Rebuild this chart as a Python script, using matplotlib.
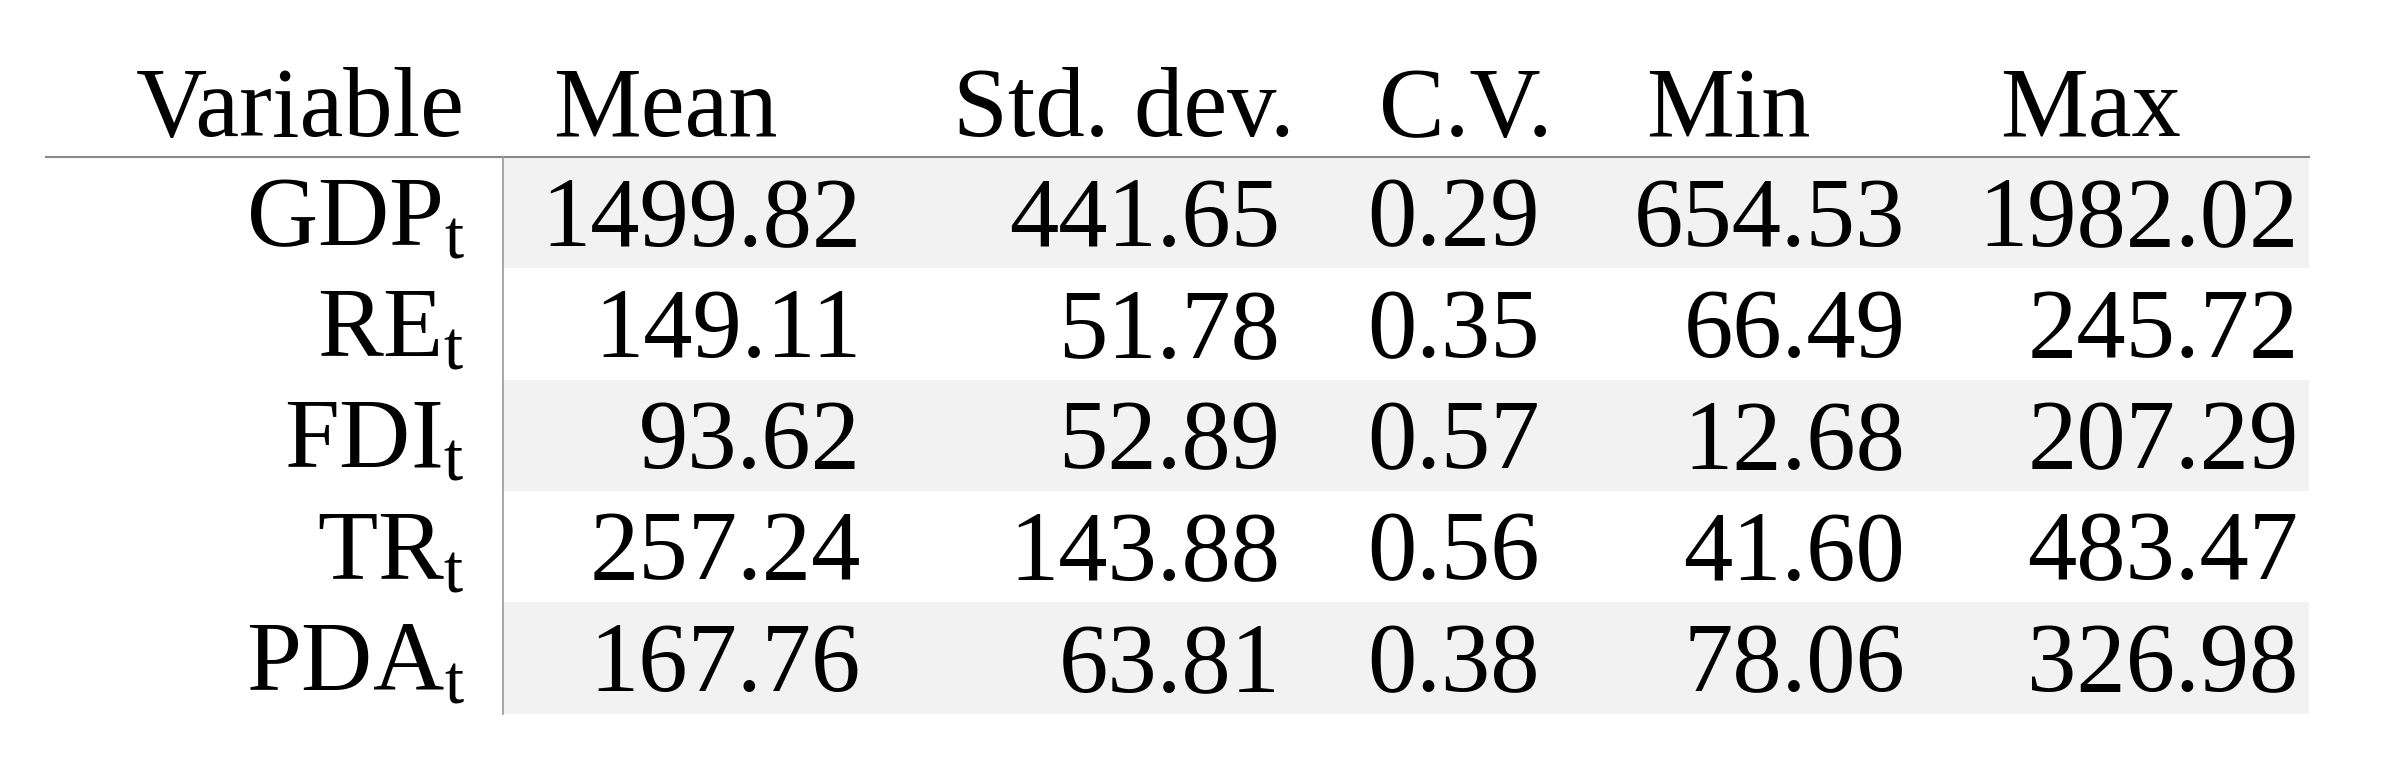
import matplotlib
matplotlib.use('Agg')
import matplotlib.pyplot as plt
from matplotlib.patches import Rectangle
from matplotlib.lines import Line2D

plt.rcParams['font.family'] = 'Liberation Serif'
plt.rcParams['mathtext.fontset'] = 'custom'
plt.rcParams['mathtext.rm'] = 'Liberation Serif'
plt.rcParams['mathtext.it'] = 'Liberation Serif'

# --- data ---
variables = ['GDP', 'RE', 'FDI', 'TR', 'PDA']
columns = ['Variable', 'Mean', 'Std. dev.', 'C.V.', 'Min', 'Max']
mean = [1499.82, 149.11, 93.62, 257.24, 167.76]
std_dev = [441.65, 51.78, 52.89, 143.88, 63.81]
cv = [0.29, 0.35, 0.57, 0.56, 0.38]
vmin = [654.53, 66.49, 12.68, 41.60, 78.06]
vmax = [1982.02, 245.72, 207.29, 483.47, 326.98]

W, H = 1568, 501  # layout measured in this pixel space


def fx(x):
    return x / W


def fy(y):
    return 1 - y / H


fig = plt.figure(figsize=(23.9, 7.64), dpi=100)
FS = 71

# header
header_x = [305, 363, 625, 905, 1080, 1312]
for i, (name, x) in enumerate(zip(columns, header_x)):
    fig.text(fx(x), fy(89), name, fontsize=FS,
             ha='right' if i == 0 else 'left', va='baseline')

row_top = 103
row_h = 73
line_x = 330
right_edge = 1515

# shaded bands
for i in range(len(variables)):
    if i % 2 == 0:
        fig.patches.append(Rectangle((fx(line_x), fy(row_top + (i + 1) * row_h)),
                                     fx(right_edge - line_x), row_h / H,
                                     transform=fig.transFigure,
                                     facecolor='#f2f2f2', edgecolor='none', zorder=0))

fig.lines.append(Line2D([fx(30), fx(right_edge)], [fy(row_top), fy(row_top)],
                        transform=fig.transFigure, color='#888888', lw=1.5))
fig.lines.append(Line2D([fx(line_x), fx(line_x)],
                        [fy(row_top), fy(row_top + len(variables) * row_h)],
                        transform=fig.transFigure, color='#999999', lw=1.2))

value_cols = [(mean, 565), (std_dev, 840), (cv, 1010), (vmin, 1250), (vmax, 1508)]
for i, var in enumerate(variables):
    yb = fy(row_top + i * row_h + 58)
    fig.text(fx(305), yb, var + r'$_{\mathrm{t}}$', fontsize=FS, ha='right', va='baseline')
    for vals, xr in value_cols:
        fig.text(fx(xr), yb, f'{vals[i]:.2f}', fontsize=FS, ha='right', va='baseline')

fig.savefig('out.png', dpi=100, facecolor='white')
